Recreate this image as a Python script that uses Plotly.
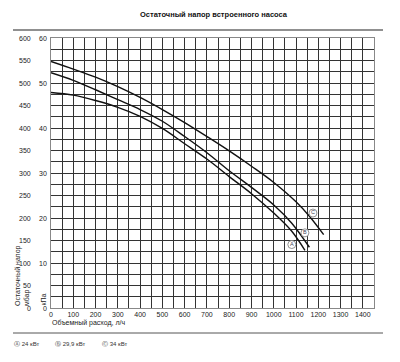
import plotly.graph_objects as go

# ---- data ----
flow_a = [0, 100, 200, 300, 400, 500, 600, 700, 800, 900, 1000, 1080, 1140]
head_a = [479, 473, 461, 446, 426, 399, 365, 331, 292, 254, 211, 171, 128]
flow_b = [0, 100, 200, 300, 400, 500, 600, 700, 800, 900, 1000, 1080, 1160]
head_b = [523, 506, 485, 463, 441, 415, 381, 345, 305, 268, 229, 189, 135]
flow_c = [0, 100, 200, 300, 400, 500, 600, 700, 800, 900, 1000, 1100, 1160, 1224]
head_c = [548, 531, 513, 492, 468, 441, 412, 381, 349, 315, 279, 236, 204, 163]

curve_labels = ["A", "B", "C"]
label_x = [1081, 1140, 1176]
label_y = [141, 167, 211]

x_ticks = list(range(0, 1401, 100))
mbar_ticks = list(range(0, 601, 50))
kpa_ticks = list(range(0, 61, 10))
legend_texts = ["Ⓐ 24 кВт", "Ⓑ 29,9 кВт", "Ⓒ 34 кВт"]

title = "Остаточный напор встроенного насоса"
x_title = "Объемный расход, л/ч"
y_title = "Остаточный напор<br>мбар"
y2_title = "кПа"

# ---- geometry (page pixels; page body has an 8px margin) ----
OFF = 8
W, H = 400 - OFF, 362 - OFF
PL, PR, PT, PB = 51, 374, 38, 308          # plot area in page pixels
L, T = PL - OFF, PT - OFF
R, B = W - (PR - OFF), H - (PB - OFF)
PW, PH = PR - PL, PB - PT
def px(x):
    return (x - PL) / PW
def py(y):
    return (PB - y) / PH

FONT = "Liberation Sans, Arial, sans-serif"
fig = go.Figure()
for fx, hy in [(flow_a, head_a), (flow_b, head_b), (flow_c, head_c)]:
    fig.add_trace(go.Scatter(x=fx, y=hy, mode="lines", line=dict(color="#111", width=1.4, shape="spline"),
                             showlegend=False, hoverinfo="skip"))
fig.add_trace(go.Scatter(x=label_x, y=label_y, mode="markers+text", text=curve_labels,
                         textposition="middle center",
                         textfont=dict(size=5.5, color="#445", family=FONT),
                         marker=dict(symbol="circle", size=8, color="white", line=dict(color="#777", width=0.8)),
                         showlegend=False, hoverinfo="skip"))

grid_x = list(range(0, 1451, 50))
grid_y = list(range(0, 601, 25))
fig.update_xaxes(range=[0, 1450], tickvals=grid_x,
                 ticktext=[str(v) if v in x_ticks else "" for v in grid_x],
                 showgrid=True, gridcolor="#333", gridwidth=1, ticks="", zeroline=False,
                 showline=True, linecolor="#888", linewidth=1, mirror=True,
                 tickfont=dict(size=7, color="#222", family=FONT))
fig.update_yaxes(range=[0, 600], tickvals=grid_y, showticklabels=False,
                 showgrid=True, gridcolor="#333", gridwidth=1, ticks="", zeroline=False,
                 showline=True, linecolor="#888", linewidth=1, mirror=True)

ann = []
for v in mbar_ticks:
    ann.append(dict(x=px(33), y=v, xref="paper", yref="y", text=str(v), showarrow=False,
                    xanchor="right", yanchor="middle", font=dict(size=7, color="#222", family=FONT)))
for v in kpa_ticks:
    ann.append(dict(x=px(49), y=v * 10, xref="paper", yref="y", text=str(v), showarrow=False,
                    xanchor="right", yanchor="middle", font=dict(size=7, color="#222", family=FONT)))
ann.append(dict(x=px(214), y=py(15), xref="paper", yref="paper", text="<b>" + title + "</b>", showarrow=False,
                xanchor="center", yanchor="middle", font=dict(size=7.5, color="#111", family=FONT)))
ann.append(dict(x=px(50), y=py(323), xref="paper", yref="paper", text=x_title, showarrow=False,
                xanchor="left", yanchor="middle", font=dict(size=7, color="#222", family=FONT)))
ann.append(dict(x=px(12), y=py(308), xref="paper", yref="paper", text=y_title, showarrow=False, textangle=-90,
                xanchor="left", yanchor="bottom", align="left",
                font=dict(size=7, color="#222", family=FONT)))
ann.append(dict(x=px(37), y=py(308), xref="paper", yref="paper", text=y2_title, showarrow=False, textangle=-90,
                xanchor="left", yanchor="bottom", font=dict(size=7, color="#222", family=FONT)))
for t, xx in zip(legend_texts, [12, 53, 100]):
    ann.append(dict(x=px(xx), y=py(344), xref="paper", yref="paper", text=t, showarrow=False,
                    xanchor="left", yanchor="middle", font=dict(size=6, color="#333", family=FONT)))

shapes = [
    dict(type="line", xref="paper", yref="paper", x0=px(13), x1=px(383), y0=py(30), y1=py(30),
         line=dict(color="#222", width=1.2)),
    dict(type="line", xref="paper", yref="paper", x0=px(13), x1=px(383), y0=py(333), y1=py(333),
         line=dict(color="#555", width=1)),
]

fig.update_layout(width=W, height=H, margin=dict(l=L, r=R, t=T, b=B),
                  plot_bgcolor="white", paper_bgcolor="white",
                  annotations=ann, shapes=shapes, showlegend=False)
fig.write_html("out.html")
